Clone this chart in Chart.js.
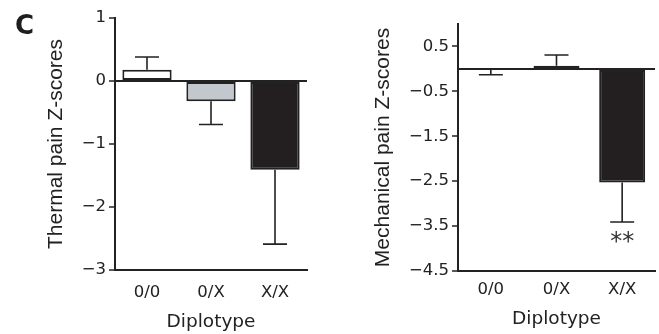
<!DOCTYPE html>
<html>
<head>
<meta charset="utf-8">
<script src="https://cdn.jsdelivr.net/npm/chart.js@4"></script>
<style>
  html, body { margin: 0; padding: 0; background: #fff; }
  #wrap { position: relative; width: 659px; height: 334px; overflow: hidden; }
  #thermal { position: absolute; left: 0; top: 0; }
  #mech { position: absolute; left: 330px; top: 0; }
  #panel { position: absolute; left: 15px; top: 12px; font: bold 26px "DejaVu Sans"; line-height: 26px; color: #1e1e1e; }
</style>
</head>
<body>
<div id="wrap">
  <canvas id="thermal" width="330" height="334"></canvas>
  <canvas id="mech" width="329" height="334"></canvas>
  <div id="panel">C</div>
</div>
<script>
// data
const diplotypes = ['0/0', '0/X', 'X/X'];

const thermalMean = [0.18, -0.32, -1.41];
const thermalSem = [0.20, 0.37, 1.18];
const thermalTicks = [1, 0, -1, -2, -3];

const mechMean = [-0.02, 0.07, -2.53];
const mechSem = [0.11, 0.24, 0.88];
const mechTicks = [0.5, -0.5, -1.5, -2.5, -3.5, -4.5];
const mechStars = ['', '', '**'];

const thermalFill = ['#ffffff', '#c3c8cf', '#231f20'];
const mechFill = ['#ffffff', '#d2d2d2', '#231f20'];

const ink = '#222222';
const tickFont = { family: 'DejaVu Sans', size: 16.5 };
const titleFont = { family: 'Liberation Sans', size: 21 };
const xTitleFont = { family: 'DejaVu Sans', size: 18.5 };

// unicode minus like the figure
const fmt = v => (v < 0 ? '\u2212' + Math.abs(v) : String(v));

// one-sided error bars + significance marks
const errorBars = {
  id: 'errorBars',
  afterDatasetsDraw(chart, args, opts) {
    const { ctx } = chart;
    const y = chart.scales.y;
    const meta = chart.getDatasetMeta(0);
    const vals = chart.data.datasets[0].data;
    ctx.save();
    ctx.strokeStyle = ink;
    ctx.lineWidth = 1.6;
    meta.data.forEach((bar, i) => {
      const v = vals[i];
      const dir = v < 0 ? -1 : 1;
      const y0 = y.getPixelForValue(v);
      const y1 = y.getPixelForValue(v + dir * opts.sem[i]);
      ctx.beginPath();
      ctx.moveTo(bar.x, y0);
      ctx.lineTo(bar.x, y1);
      ctx.moveTo(bar.x - opts.cap / 2, y1);
      ctx.lineTo(bar.x + opts.cap / 2, y1);
      ctx.stroke();
      if (opts.stars && opts.stars[i]) {
        ctx.fillStyle = '#333';
        ctx.font = '24px "DejaVu Sans"';
        ctx.textAlign = 'center';
        ctx.textBaseline = 'middle';
        ctx.fillText(opts.stars[i], bar.x, y1 + 21);
      }
    });
    ctx.restore();
  }
};

function makeChart(id, cfg) {
  return new Chart(document.getElementById(id), {
    type: 'bar',
    data: {
      labels: diplotypes,
      datasets: [{
        data: cfg.mean,
        backgroundColor: cfg.fill,
        borderColor: ink,
        borderWidth: 2,
        borderSkipped: false,
        barPercentage: cfg.barPct,
        categoryPercentage: 1
      }]
    },
    options: {
      responsive: false,
      animation: false,
      layout: { padding: cfg.padding },
      plugins: {
        legend: { display: false },
        tooltip: { enabled: false },
        errorBars: { sem: cfg.sem, cap: 24, stars: cfg.stars }
      },
      scales: {
        x: {
          afterFit: s => { s.height = cfg.xHeight; },
          border: { display: true, color: ink, width: 2 },
          grid: { display: true, drawOnChartArea: false, drawTicks: false },
          ticks: { font: tickFont, color: ink, padding: cfg.xTickPad, maxRotation: 0 },
          title: { display: true, text: 'Diplotype', font: xTitleFont, color: ink, padding: { top: 0, bottom: cfg.xTitlePad } }
        },
        y: {
          min: cfg.min,
          max: cfg.max,
          afterBuildTicks: s => { s.ticks = cfg.ticks.concat(cfg.extraTicks || []).map(v => ({ value: v })); },
          afterFit: s => { s.width = cfg.yWidth; },
          border: { display: true, color: ink, width: 2 },
          grid: {
            drawOnChartArea: true,
            color: c => (c.tick && c.tick.value === 0 ? ink : 'rgba(0,0,0,0)'),
            lineWidth: 2,
            tickLength: 6,
            tickWidth: 1.5,
            tickColor: c => (cfg.ticks.includes(c.tick.value) ? ink : 'rgba(0,0,0,0)')
          },
          ticks: {
            font: tickFont,
            color: ink,
            padding: 3,
            callback: v => (cfg.ticks.includes(v) ? fmt(v) : '')
          },
          title: { display: true, text: cfg.title, font: titleFont, color: ink, padding: { top: cfg.yTitlePad, bottom: 0 } }
        }
      }
    },
    plugins: [errorBars]
  });
}

makeChart('thermal', {
  mean: thermalMean, sem: thermalSem, fill: thermalFill, ticks: thermalTicks,
  min: -3, max: 1, title: 'Thermal pain Z-scores',
  barPct: 0.77, padding: { top: 18, right: 23, bottom: 0, left: 0 },
  yWidth: 115, xHeight: 64, xTickPad: 13, xTitlePad: 1, yTitlePad: 44
});

makeChart('mech', {
  mean: mechMean, sem: mechSem, fill: mechFill, ticks: mechTicks, extraTicks: [0],
  stars: mechStars,
  min: -4.5, max: 1, title: 'Mechanical pain Z-scores',
  barPct: 0.7, padding: { top: 24, right: 4, bottom: 0, left: 0 },
  yWidth: 128, xHeight: 63, xTickPad: 9, xTitlePad: 4, yTitlePad: 41
});
</script>
</body>
</html>
